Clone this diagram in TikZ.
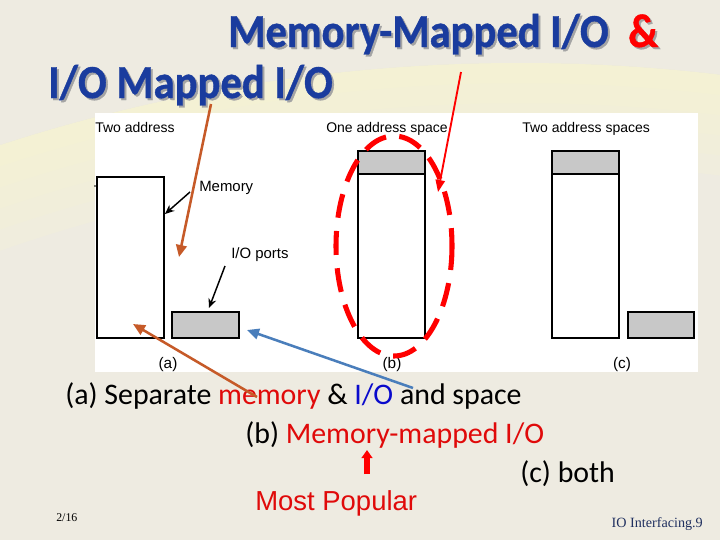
\documentclass[tikz,border=0pt]{standalone}
\usepackage{fontspec}
\setmainfont{Carlito}
\newfontfamily\arialf{Liberation Sans}
\newfontfamily\timesf{Liberation Serif}
\newfontfamily\titlef{Carlito}[FakeStretch=0.9, FakeBold=0.8]
\usetikzlibrary{arrows.meta}
\definecolor{bg}{HTML}{EEEBE1}
\definecolor{swirl}{HTML}{F8F6D0}
\definecolor{titleblue}{HTML}{1A3C9E}
\definecolor{shadowgray}{HTML}{A4A4A4}
\definecolor{portgray}{HTML}{C8C8C8}
\definecolor{redtxt}{HTML}{E00A0A}
\definecolor{bluetxt}{HTML}{0A0ACC}
\definecolor{orangearr}{HTML}{C65A28}
\definecolor{bluearr}{HTML}{4A7EBB}
\definecolor{footblue}{HTML}{1F2F5F}
\begin{document}
\begin{tikzpicture}[x=0.75pt,y=-0.75pt,
  titletxt/.style={font=\titlef\fontsize{35.5}{40}\selectfont\bfseries, inner sep=0, anchor=base west},
  lbl/.style={font=\arialf\fontsize{10.5}{12}\selectfont, inner sep=0, anchor=base west},
  lblb/.style={font=\arialf\fontsize{11.2}{13}\selectfont, inner sep=0, anchor=base west},
  plbl/.style={font=\arialf\fontsize{11.5}{13}\selectfont, inner sep=0, anchor=base},
  caption/.style={font=\fontsize{22.4}{26}\selectfont, inner sep=0, anchor=base west},
  box/.style={draw=black, line width=1.1pt, fill=white},
  port/.style={draw=black, line width=1.1pt, fill=portgray},
  blkarrow/.style={-{Stealth[length=7pt,width=6pt]}, line width=1.1pt, draw=black},
  oarrow/.style={-{Triangle[length=9pt,width=8pt]}, line width=1.9pt, draw=orangearr},
  barrow/.style={-{Triangle[length=9pt,width=8pt]}, line width=1.9pt, draw=bluearr},
  rarrow/.style={-{Triangle[length=9pt,width=7pt]}, line width=1.4pt, draw=red},
]
\useasboundingbox (0,0) rectangle (720,540);
\fill[bg] (0,0) rectangle (720,540);
\begin{scope}
  \clip (0,0) rectangle (720,540);
  \foreach \w/\r in {15pt/1666,30pt/1656,45pt/1646,60pt/1636,75pt/1626}
    \draw[swirl, opacity=0.2, line width=\w] (520,1739) circle[radius=\r];
\end{scope}

% title with shadow
\node[titletxt, text=shadowgray] at (230,49) {Memory-Mapped I/O};
\node[titletxt, text=shadowgray] at (630,49) {\&};
\node[titletxt, text=shadowgray] at (50,100) {I/O Mapped I/O};
\node[titletxt, text=titleblue] (t1) at (228,47) {Memory-Mapped I/O};
\node[titletxt, text=red] (amp) at (628,47) {\&};
\node[titletxt, text=titleblue] (t2) at (48,98) {I/O Mapped I/O};

% white panel
\fill[white] (95,113) rectangle (698,372);
\fill[black] (95,186) circle[radius=0.8];

\node[lbl] (la) at (95,132) {Two address};
\node[lbl] (lb) at (326,132) {One address space};
\node[lbl] (lc) at (522,132) {Two address spaces};

% (a)
\draw[box] (97,177) rectangle (164,338);
\draw[port] (172,312) rectangle (239,338);
\node[lblb] (mem) at (199,191) {Memory};
\node[lblb] (iop) at (231,258) {I/O ports};
\coordinate (memtip) at (165,214);
\coordinate (iotip) at (209,308);
\coordinate (ms) at (190,192);
\coordinate (is) at (225,266);
\draw[blkarrow] (ms) -- (memtip);
\draw[blkarrow] (is) -- (iotip);

% (b)
\draw[box] (358,174) rectangle (425,338);
\draw[port] (358,151) rectangle (425,174);
% (c)
\draw[box] (552,174) rectangle (619,338);
\draw[port] (552,151) rectangle (619,174);
\draw[port] (628,312) rectangle (694,338);

\node[plbl] (pa) at (168,368) {(a)};
\node[plbl] (pb) at (392,368) {(b)};
\node[plbl] (pc) at (622,368) {(c)};

% dashed ellipse
\draw[red, line width=3.8pt, dash pattern=on 18pt off 10pt] (394,246) ellipse [x radius=58, y radius=110];

% captions
\node[caption] (ca) at (65,404) {(a) Separate \textcolor{redtxt}{memory} \& \textcolor{bluetxt}{I/O} and space};
\node[caption] (cb) at (245,443) {(b) \textcolor{redtxt}{Memory-mapped I/O}};
\node[caption] (cc) at (520,482) {(c) both};
\node[font=\arialf\fontsize{20.6}{24}\selectfont, text=redtxt, inner sep=0, anchor=base west] (mp) at (255,510) {Most Popular};
\node[font=\timesf\fontsize{8.9}{10}\selectfont, inner sep=0, anchor=base west] (pg) at (56,521) {2/16};
\node[font=\timesf\fontsize{10.6}{12}\selectfont, text=footblue, inner sep=0, anchor=base east] (ft) at (703,527) {IO Interfacing.9};

% colored arrows
\coordinate (o1s) at (211,104);
\coordinate (o1t) at (179,257);
\coordinate (o2s) at (257,397);
\coordinate (o2t) at (133,324);
\coordinate (b1s) at (413,388);
\coordinate (b1t) at (247,330);
\coordinate (r1s) at (461,72);
\coordinate (r1t) at (438,192);
\draw[oarrow] (o1s) -- (o1t);
\draw[oarrow] (o2s) -- (o2t);
\draw[barrow] (b1s) -- (b1t);
\draw[rarrow] (r1s) -- (r1t);

% small up arrow
\coordinate (ua) at (367,474);
\coordinate (ub) at (367,450);
\draw[-{Triangle[length=6pt,width=8pt]}, line width=3.8pt, draw=red] (ua) -- (ub);
\end{tikzpicture}
\end{document}
